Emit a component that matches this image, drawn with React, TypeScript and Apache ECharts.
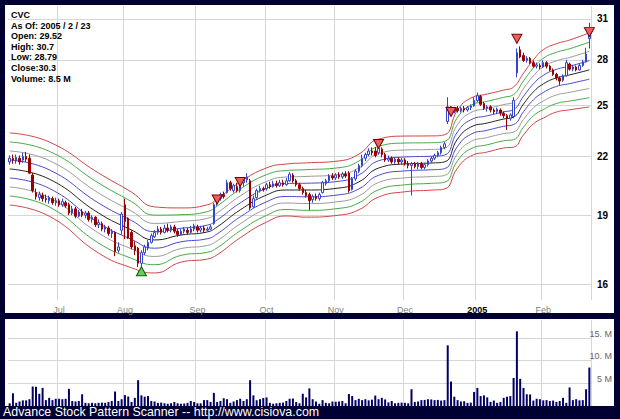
import React, { useEffect, useRef } from 'react';
import * as echarts from 'echarts';

// ---- data (prices) ----
// each candle: [open, close, low, high]
const jun = [
  [21.7, 21.9, 21.55, 22.05], [21.9, 21.8, 21.6, 22.1], [21.75, 21.95, 21.6, 22.1], [21.9, 21.7, 21.55, 22.05],
  [21.8, 22.0, 21.65, 22.2], [22.0, 21.85, 21.7, 22.25], [21.9, 21.1, 21.05, 22.1], [21.0, 20.2, 20.1, 21.1],
  [20.1, 19.9, 19.75, 20.3], [19.85, 20.0, 19.7, 20.15], [19.95, 19.8, 19.65, 20.1], [19.8, 19.75, 19.6, 20.0],
  [19.7, 19.85, 19.55, 19.95], [19.8, 19.6, 19.5, 19.9], [19.6, 19.7, 19.45, 19.85],
];
const jul = [
  [19.7, 19.5, 19.4, 19.8], [19.5, 19.65, 19.4, 19.8], [19.6, 19.45, 19.35, 19.7], [19.5, 19.1, 19.0, 19.6],
  [19.1, 19.3, 19.0, 19.45], [19.3, 18.95, 18.85, 19.4], [18.95, 19.15, 18.9, 19.25], [19.15, 19.0, 18.9, 19.3],
  [19.0, 19.1, 18.85, 19.2], [19.1, 18.8, 18.7, 19.2], [18.8, 18.9, 18.65, 19.0], [18.9, 18.55, 18.45, 18.95],
  [18.55, 18.65, 18.4, 18.8], [18.6, 18.35, 18.25, 18.7], [18.35, 18.45, 18.2, 18.55], [18.4, 18.15, 18.05, 18.5],
  [18.15, 18.25, 17.95, 18.35], [18.2, 17.35, 17.15, 18.25], [17.4, 17.55, 17.3, 17.75], [18.3, 19.05, 18.1, 19.15],
];
const aug = [
  [19.5, 18.7, 17.9, 19.8], [18.85, 17.95, 17.9, 18.9], [18.2, 17.55, 17.45, 18.3], [17.6, 17.4, 17.2, 17.8],
  [17.5, 16.85, 16.7, 17.55], [16.85, 17.3, 16.65, 17.4], [17.3, 17.55, 17.2, 17.65], [17.5, 17.75, 17.4, 17.85],
  [17.75, 18.05, 17.7, 18.15], [18.0, 18.2, 17.95, 18.3], [18.2, 18.35, 18.1, 18.5], [18.35, 18.2, 18.1, 18.45],
  [18.2, 18.4, 18.15, 18.55], [18.4, 18.3, 18.2, 18.6], [18.3, 18.45, 18.2, 18.55], [18.45, 18.25, 18.15, 18.55],
  [18.25, 18.1, 18.0, 18.35], [18.1, 18.25, 18.05, 18.35], [18.25, 18.35, 18.15, 18.45], [18.3, 18.2, 18.1, 18.4],
  [18.2, 18.35, 18.15, 18.5], [18.35, 18.5, 18.25, 18.6],
];
const sep = [
  [18.45, 18.3, 18.2, 18.55], [18.3, 18.4, 18.2, 18.5], [18.4, 18.3, 18.2, 18.5], [18.3, 18.35, 18.25, 18.45],
  [18.35, 18.45, 18.3, 18.55], [18.6, 19.5, 18.55, 19.6], [19.55, 19.8, 19.45, 19.9], [19.8, 20.0, 19.7, 20.1],
  [20.0, 19.9, 19.8, 20.15], [20.1, 20.6, 20.05, 20.75], [20.6, 20.3, 20.2, 20.7], [20.2, 20.45, 20.1, 20.55],
  [20.4, 20.2, 20.1, 20.6], [20.2, 20.6, 20.1, 20.7], [20.6, 20.75, 20.4, 20.9], [20.75, 20.9, 20.6, 21.1],
  [20.7, 19.35, 19.25, 20.8], [19.4, 19.8, 19.35, 19.95], [19.85, 20.2, 19.8, 20.3], [20.2, 20.3, 20.1, 20.45],
  [20.3, 20.25, 20.15, 20.4],
];
const oct = [
  [20.3, 20.5, 20.2, 20.6], [20.5, 20.4, 20.3, 20.65], [20.4, 20.55, 20.35, 20.7], [20.55, 20.45, 20.35, 20.7],
  [20.45, 20.6, 20.4, 20.75], [20.6, 20.5, 20.4, 20.75], [20.5, 20.7, 20.45, 20.85], [20.7, 21.05, 20.65, 21.15],
  [21.0, 20.7, 20.6, 21.1], [20.7, 20.5, 20.4, 20.8], [20.5, 20.3, 20.2, 20.6], [20.3, 20.1, 20.0, 20.4],
  [20.1, 19.95, 19.85, 20.25], [20.0, 19.7, 19.25, 20.1], [19.75, 19.9, 19.6, 20.0], [19.9, 19.8, 19.7, 20.05],
  [19.8, 20.0, 19.7, 20.1], [20.1, 20.6, 20.05, 20.7], [20.55, 20.7, 20.45, 20.8], [20.7, 20.95, 20.6, 21.05],
  [20.95, 20.85, 20.75, 21.1],
];
const nov = [
  [20.85, 21.0, 20.75, 21.1], [21.0, 20.9, 20.8, 21.15], [20.9, 21.05, 20.8, 21.15], [21.05, 20.95, 20.85, 21.2],
  [21.1, 20.2, 20.1, 21.2], [20.25, 20.8, 20.2, 20.9], [20.8, 21.2, 20.7, 21.3], [21.2, 21.5, 21.1, 21.6],
  [21.5, 21.9, 21.4, 22.1], [21.9, 22.1, 21.75, 22.2], [22.1, 22.3, 22.0, 22.45], [22.3, 22.2, 22.05, 22.5],
  [22.3, 22.05, 21.95, 22.5], [22.2, 22.45, 22.1, 22.65], [22.4, 22.1, 21.95, 22.5], [22.1, 21.8, 21.7, 22.2],
  [21.8, 21.9, 21.7, 22.05], [21.9, 21.7, 21.6, 22.0], [21.7, 21.85, 21.6, 21.95], [21.85, 21.7, 21.55, 21.95],
  [21.7, 21.8, 21.55, 21.9],
];
const dec = [
  [21.8, 21.6, 21.5, 21.9], [21.6, 21.5, 21.35, 21.75], [21.5, 21.6, 19.95, 21.7], [21.6, 21.45, 21.35, 21.7],
  [21.45, 21.6, 21.3, 21.7], [21.6, 21.4, 21.3, 21.7], [21.4, 21.55, 21.3, 21.65], [21.55, 21.75, 21.45, 21.85],
  [21.75, 21.9, 21.65, 22.0], [21.9, 22.05, 21.8, 22.15], [22.05, 22.2, 21.95, 22.3], [22.2, 22.5, 22.1, 22.6],
  [22.5, 22.7, 22.4, 22.8], [24.0, 24.9, 23.85, 25.5], [24.9, 24.5, 24.35, 24.95], [24.6, 24.8, 24.5, 24.9],
  [24.8, 24.65, 24.55, 24.95], [24.65, 24.8, 24.55, 24.9], [24.8, 24.7, 24.55, 24.95], [24.7, 24.85, 24.6, 24.95],
  [24.85, 24.95, 24.7, 25.05], [24.95, 25.3, 24.9, 25.5],
];
const jan = [
  [25.3, 25.6, 25.2, 25.8], [25.55, 25.05, 24.95, 25.65], [25.1, 24.8, 24.7, 25.2], [24.8, 24.9, 24.6, 25.0],
  [24.9, 24.7, 24.55, 25.0], [24.7, 24.6, 24.45, 24.8], [24.6, 24.75, 24.45, 24.85], [24.7, 24.5, 24.35, 24.8],
  [24.5, 24.35, 24.2, 24.6], [24.35, 24.2, 23.5, 24.45], [24.2, 24.4, 24.05, 24.5], [24.3, 25.3, 24.2, 25.5],
  [27.1, 28.5, 26.8, 28.8], [28.7, 28.2, 28.1, 28.95], [28.3, 27.95, 27.85, 28.5], [27.95, 28.1, 27.8, 28.25],
  [28.1, 27.8, 27.7, 28.2], [27.8, 27.55, 27.45, 27.95], [27.55, 27.65, 27.4, 27.8], [27.6, 27.5, 27.35, 27.75],
];
const feb = [
  [27.5, 27.8, 27.45, 27.95], [27.8, 27.55, 27.4, 27.9], [27.55, 27.3, 27.2, 27.65], [27.3, 27.0, 26.9, 27.4],
  [27.0, 26.75, 26.6, 27.1], [26.75, 26.55, 26.3, 26.85], [26.6, 26.9, 26.5, 27.0], [26.9, 27.8, 26.85, 28.0],
  [27.7, 27.35, 27.25, 27.8], [27.35, 27.5, 27.2, 27.65], [27.5, 27.3, 27.2, 27.6], [27.3, 27.6, 27.25, 27.75],
  [27.6, 27.85, 27.5, 28.0], [27.85, 28.4, 27.8, 28.85], [29.52, 30.3, 28.79, 30.7],
];
const monthCandles = [jun, jul, aug, sep, oct, nov, dec, jan, feb];
const monthLabels = ['', 'Jul', 'Aug', 'Sep', 'Oct', 'Nov', 'Dec', '2005', 'Feb'];

// daily volume, millions
const volumeM = [
  0.6, 2.8, 0.7, 1.0, 1.25, 1.25, 1.5, 4.3, 4.25, 2.7, 4.0, 1.3, 1.8, 1.3, 1.6, 1.6, 1.5, 1.6, 3.8, 1.1,
  1.0, 1.1, 2.6, 0.7, 0.6, 0.7, 0.6, 0.7, 0.75, 0.7, 0.9, 1.1, 3.2, 1.1, 1.5, 2.4, 2.1, 0.9, 1.8, 5.7,
  2.35, 2.05, 2.2, 1.1, 1.0, 0.7, 0.75, 0.6, 0.5, 0.6, 0.9, 0.6, 0.5, 0.55, 0.7, 1.1, 0.9, 0.6, 0.6, 1.3,
  1.3, 0.9, 2.9, 0.9, 1.1, 1.7, 1.5, 0.7, 1.0, 1.3, 1.6, 1.1, 1.5, 5.7, 2.35, 1.25, 1.5, 1.75, 1.9, 0.7,
  0.5, 0.6, 0.7, 0.75, 1.1, 1.6, 1.65, 0.9, 0.6, 2.7, 1.9, 3.9, 1.5, 1.0, 0.5, 1.3, 0.7, 0.6, 1.0, 0.95,
  1.0, 1.1, 0.6, 2.65, 2.2, 1.3, 1.6, 1.3, 1.5, 1.25, 1.4, 2.3, 1.5, 1.8, 1.45, 0.8, 1.1, 0.6, 0.7, 0.75,
  0.7, 0.6, 3.7, 0.9, 1.0, 1.3, 1.35, 1.5, 1.45, 1.3, 1.35, 1.2, 1.3, 13.4, 5.4, 2.05, 1.3, 1.0, 1.05, 0.7,
  0.75, 3.1, 4.0, 2.2, 2.35, 1.9, 0.9, 1.2, 0.7, 0.9, 1.8, 2.05, 2.2, 6.2, 16.5, 6.0, 4.0, 2.6, 2.55, 1.2,
  1.6, 1.5, 1.25, 1.3, 1.1, 1.2, 0.9, 1.1, 1.8, 0.7, 4.1, 1.3, 1.5, 1.25, 1.3, 3.7, 8.5,
];

// envelope: centre line and half-width (%) read at sample days
const bandIdx = [0, 12, 27, 37, 44, 52, 60, 63, 70, 78, 84, 90, 100, 106, 112, 120, 128, 132, 136, 140, 145, 150, 153, 156, 159, 162, 166, 170, 176];
const bandMid = [21.32, 20.79, 19.10, 18.31, 17.86, 18.08, 18.22, 18.45, 19.25, 19.98, 20.23, 20.23, 20.33, 20.64, 21.37, 21.59, 21.64, 21.70, 22.98, 23.67, 23.91, 24.15, 24.27, 25.07, 25.84, 26.36, 26.76, 26.96, 27.30];
const bandPct = [9.4, 9.7, 10.5, 9.9, 8.6, 7.0, 7.0, 7.2, 7.2, 7.0, 6.7, 7.0, 7.0, 7.2, 7.5, 7.2, 7.0, 7.0, 7.5, 7.5, 7.5, 7.5, 7.8, 8.0, 8.3, 8.9, 8.9, 9.1, 9.7];

const sellIdx = [63, 70, 112, 134, 154, 176];
const sellPrice = [19.76, 20.64, 22.69, 24.58, 29.5, 30.0];
const buyIdx = [40];
const buyPrice = [16.52];

const priceTicks = [16, 19, 22, 25, 28, 31];
const volumeTicks = [5, 10, 15];
const priceMin = 15.374;
const priceMax = 32.02;
const volumeMax = 19;

const infoLines = ['CVC', 'As Of: 2005 / 2 / 23', 'Open: 29.52', 'High: 30.7', 'Low: 28.79', 'Close:30.3', 'Volume: 8.5 M'];
const footer = 'Advance Stock Pattern Scanner -- http://www.cisiova.com';

const NAVY = '#000033';
const GRID = '#d6d6d6';

function buildOption() {
  const L = Math.log;
  const candles = monthCandles.flat();
  const categories: string[] = [];
  const labelAt: Record<number, string> = {};
  let start = 0;
  monthCandles.forEach((m, mi) => {
    if (mi > 0) labelAt[start] = monthLabels[mi];
    m.forEach((_, k) => categories.push(`${mi}-${k + 1}`));
    start += m.length;
  });
  const isMonth = (i: number) => labelAt[i] !== undefined;

  const levelColors = ['#222222', '#4a4acc', '#9a9a9a', '#44aa44', '#d04444'];
  const bandSeries: any[] = [];
  for (let k = -4; k <= 4; k++) {
    bandSeries.push({
      type: 'line',
      xAxisIndex: 0,
      yAxisIndex: 0,
      data: bandIdx.map((d, j) => [d, L(bandMid[j]) + (k / 4) * L(1 + bandPct[j] / 100)]),
      smooth: true,
      symbol: 'none',
      silent: true,
      z: 1,
      lineStyle: { color: levelColors[Math.abs(k)], width: 1 },
    });
  }

  const grids = [
    { left: 8, right: 29, top: 6, height: 294 },
    { left: 8, right: 29, top: 320, height: 86 },
  ];

  return {
    animation: false,
    backgroundColor: 'transparent',
    grid: grids,
    xAxis: [
      {
        type: 'category', gridIndex: 0, data: categories, boundaryGap: true,
        axisLine: { show: false }, axisTick: { show: false },
        axisLabel: {
          interval: (i: number) => isMonth(i),
          formatter: (_v: string, i: number) => (labelAt[i] === '2005' ? '{b|2005}' : labelAt[i] ?? ''),
          color: '#808080', fontSize: 9, fontFamily: 'Arial', margin: 5,
          rich: { b: { fontWeight: 'bold', color: '#000', fontSize: 9, fontFamily: 'Arial' } },
        },
        splitLine: { show: true, interval: (i: number) => isMonth(i), lineStyle: { color: GRID, width: 1 } },
      },
      {
        type: 'category', gridIndex: 1, data: categories, boundaryGap: true,
        axisLine: { show: false }, axisTick: { show: false }, axisLabel: { show: false },
        splitLine: { show: true, interval: (i: number) => isMonth(i), lineStyle: { color: GRID, width: 1 } },
      },
    ],
    yAxis: [
      {
        type: 'value', gridIndex: 0, position: 'right', min: L(priceMin), max: L(priceMax),
        axisLine: { show: false },
        axisTick: { show: false, customValues: priceTicks.map(L) },
        axisLabel: {
          customValues: priceTicks.map(L),
          formatter: (v: number) => String(Math.round(Math.exp(v))),
          fontWeight: 'bold', fontSize: 10, color: '#000', fontFamily: 'Arial', margin: 6,
        },
        splitLine: { show: true, lineStyle: { color: GRID, width: 1 } },
      },
      {
        type: 'value', gridIndex: 1, position: 'right', min: 0, max: volumeMax,
        axisLine: { show: false },
        axisTick: { show: false, customValues: volumeTicks },
        axisLabel: {
          customValues: volumeTicks,
          formatter: (v: number) => (v === 5 ? '5 M' : `${v}. M`),
          fontSize: 9, color: '#666', fontFamily: 'Arial', margin: 21, align: 'right', verticalAlign: 'bottom',
        },
        splitLine: { show: true, lineStyle: { color: GRID, width: 1 } },
      },
    ],
    series: [
      ...bandSeries,
      {
        type: 'candlestick', xAxisIndex: 0, yAxisIndex: 0, z: 3, barWidth: 2,
        data: candles.map((c) => c.map((v) => L(v))),
        itemStyle: { color: '#ffffff', color0: '#990000', borderColor: '#3344cc', borderColor0: '#990000', borderWidth: 1 },
      },
      {
        type: 'scatter', xAxisIndex: 0, yAxisIndex: 0, z: 4, symbol: 'triangle', symbolRotate: 180, symbolSize: [10, 9],
        data: sellIdx.map((d, j) => [d, L(sellPrice[j])]),
        itemStyle: { color: '#e86060', borderColor: '#7a0000', borderWidth: 1, opacity: 1 },
      },
      {
        type: 'scatter', xAxisIndex: 0, yAxisIndex: 0, z: 4, symbol: 'triangle', symbolSize: [10, 9],
        data: buyIdx.map((d, j) => [d, L(buyPrice[j])]),
        itemStyle: { color: '#66cc66', borderColor: '#006600', borderWidth: 1, opacity: 1 },
      },
      {
        type: 'bar', xAxisIndex: 1, yAxisIndex: 1, barWidth: 2,
        data: volumeM, itemStyle: { color: '#000066' },
      },
    ],
    graphic: [
      ...infoLines.map((t, i) => ({
        type: 'text', left: 11, top: 10.5 + i * 10.6, z: 10,
        style: { text: t, fill: '#000', fontSize: 9, fontWeight: 'bold', fontFamily: 'Arial' },
      })),
      {
        type: 'text', left: 3, top: 406, z: 10,
        style: { text: footer, fill: '#ffffff', fontSize: 12.4, fontFamily: 'Arial' },
      },
    ],
  };
}

export default function App() {
  const ref = useRef<HTMLDivElement>(null);
  useEffect(() => {
    document.body.style.margin = '0';
    const chart = echarts.init(ref.current as HTMLDivElement, null, { renderer: 'svg' });
    chart.setOption(buildOption() as any);
    return () => chart.dispose();
  }, []);
  return (
    <div style={{ position: 'relative', width: 620, height: 419, background: NAVY, overflow: 'hidden' }}>
      <div style={{ position: 'absolute', left: 5, top: 5, width: 609, height: 308, background: '#fff' }} />
      <div style={{ position: 'absolute', left: 5, top: 319, width: 609, height: 87, background: '#fff' }} />
      <div ref={ref} style={{ position: 'absolute', left: 0, top: 0, width: 620, height: 419 }} />
    </div>
  );
}
